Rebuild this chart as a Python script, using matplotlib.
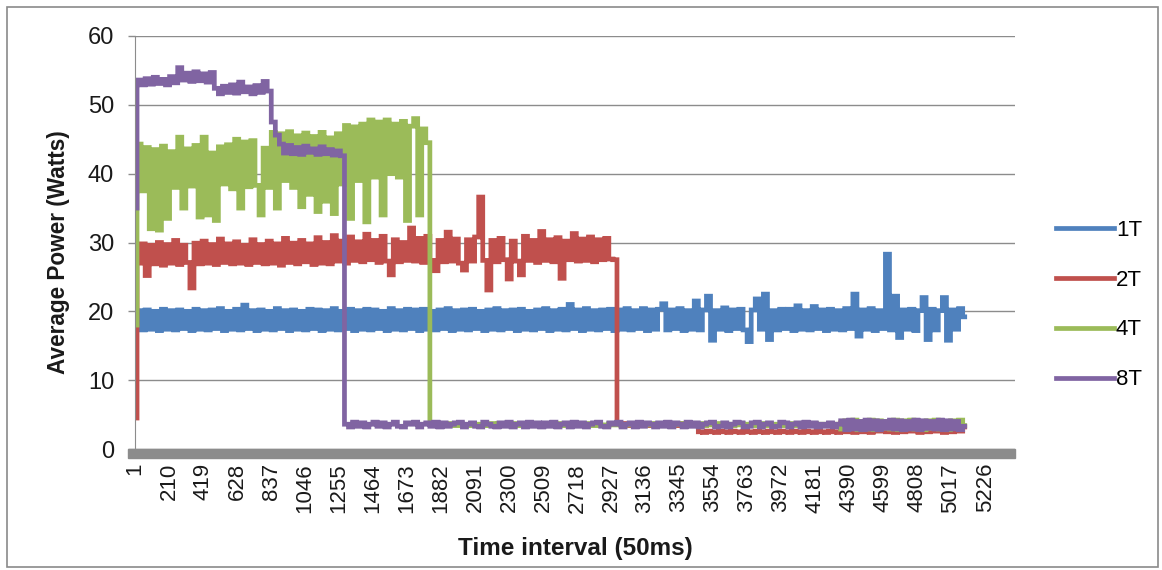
import numpy as np
import matplotlib
matplotlib.use("Agg")
import matplotlib.pyplot as plt
from matplotlib.patches import Rectangle

plt.rcParams['font.family'] = ['Liberation Sans', 'DejaVu Sans']
plt.rcParams['path.simplify'] = False

# time intervals (50ms), sampled every 25 intervals
t = np.arange(1, 5102, 25)

tick_labels = [1, 210, 419, 628, 837, 1046, 1255, 1464, 1673, 1882, 2091, 2300, 2509,
               2718, 2927, 3136, 3345, 3554, 3763, 3972, 4181, 4390, 4599, 4808, 5017, 5226]

# average power (Watts)
p1 = [18.0, 20.1, 17.3, 20.2, 17.4, 20.0, 17.2, 20.3, 17.4, 20.1,
      17.3, 20.2, 17.5, 20.0, 17.2, 20.3, 17.4, 20.1, 17.3, 20.2,
      17.5, 20.4, 17.2, 20.0, 17.4, 20.3, 17.3, 20.9, 17.5, 20.1,
      17.2, 20.2, 17.4, 20.0, 17.3, 20.4, 17.5, 20.1, 17.2, 20.2,
      17.4, 20.0, 17.3, 20.3, 17.5, 20.2, 17.2, 20.1, 17.4, 20.4,
      17.3, 20.0, 17.5, 20.3, 17.2, 20.1, 17.4, 20.3, 17.3, 20.2,
      17.5, 20.0, 17.2, 20.4, 17.4, 20.1, 17.3, 20.3, 17.5, 20.2,
      17.2, 20.3, 17.4, 20.0, 17.3, 20.2, 17.5, 20.4, 17.2, 20.1,
      17.4, 20.2, 17.3, 20.3, 17.5, 20.0, 17.2, 20.2, 17.4, 20.4,
      17.3, 20.1, 17.5, 20.2, 17.2, 20.3, 17.4, 20.0, 17.3, 20.2,
      17.5, 20.4, 17.2, 20.1, 17.4, 20.3, 17.3, 21.0, 17.5, 20.2,
      17.2, 20.4, 17.4, 20.1, 17.3, 20.2, 17.5, 20.3, 17.2, 20.2,
      17.4, 20.4, 17.3, 20.1, 17.5, 20.4, 17.2, 20.2, 17.4, 20.3,
      21.1, 17.3, 20.2, 17.5, 20.4, 17.2, 20.1, 17.4, 21.5, 17.3,
      20.2, 22.2, 15.8, 20.1, 17.4, 20.5, 17.2, 20.2, 17.5, 20.3,
      17.3, 15.6, 20.2, 21.8, 17.4, 22.5, 15.9, 20.1, 17.3, 20.3,
      17.5, 20.3, 17.2, 20.8, 17.4, 20.1, 17.3, 20.7, 17.5, 20.2,
      17.2, 20.3, 17.4, 20.1, 17.3, 20.4, 17.5, 22.5, 16.4, 20.2,
      17.4, 20.4, 17.2, 20.1, 17.5, 28.3, 17.3, 22.2, 16.2, 20.2,
      17.4, 20.3, 17.2, 20.1, 22.0, 15.9, 20.3, 17.3, 20.1, 22.0,
      15.8, 20.2, 17.4, 20.4, 19.2]

p2 = [4.5, 27.0, 29.8, 25.2, 29.6, 26.9, 30.0, 26.7, 29.7, 27.0,
      30.3, 26.8, 29.6, 27.1, 23.4, 29.9, 26.9, 30.2, 27.0, 29.7,
      26.8, 30.5, 27.1, 29.8, 26.9, 30.1, 27.0, 29.6, 26.8, 30.4,
      27.1, 29.7, 26.9, 30.2, 27.0, 29.8, 26.7, 30.6, 27.1, 29.9,
      26.9, 30.3, 27.2, 29.8, 26.8, 30.7, 27.0, 30.0, 26.9, 31.0,
      27.3, 30.2, 27.0, 30.8, 27.4, 30.1, 27.2, 31.2, 27.5, 30.3,
      27.1, 30.9, 27.3, 25.3, 30.4, 27.2, 30.0, 27.4, 32.1, 27.3,
      30.6, 27.1, 30.9, 27.4, 25.9, 30.3, 27.2, 31.5, 27.3, 30.5,
      27.0, 26.0, 30.4, 27.3, 30.8, 36.6, 27.4, 23.1, 30.3, 27.2,
      30.6, 27.5, 24.7, 30.2, 27.3, 25.3, 30.9, 27.4, 30.3, 27.1,
      31.6, 27.4, 30.4, 27.2, 30.7, 24.8, 30.2, 27.5, 31.3, 27.3,
      30.5, 27.4, 30.8, 27.2, 30.4, 27.5, 30.6, 27.6, 27.5, 3.6,
      3.5, 3.7, 3.4, 3.6, 3.5, 3.7, 3.4, 3.6, 3.5, 3.6,
      3.4, 3.7, 3.5, 3.6, 3.4, 3.7, 3.5, 3.6, 3.4, 2.5,
      2.4, 2.6, 2.5, 2.4, 2.6, 2.5, 2.4, 2.6, 2.5, 2.4,
      2.6, 2.5, 2.4, 2.6, 2.5, 2.4, 2.6, 2.5, 2.4, 2.6,
      2.5, 2.4, 2.6, 2.5, 2.4, 2.6, 2.5, 2.4, 2.6, 2.5,
      2.4, 2.6, 2.5, 2.4, 3.8, 2.5, 3.9, 2.4, 3.7, 2.5,
      3.8, 2.4, 3.9, 2.6, 3.7, 2.5, 3.8, 2.4, 3.9, 2.5,
      3.7, 2.6, 3.8, 2.4, 3.9, 2.5, 3.7, 2.6, 3.8, 2.4,
      3.9, 2.5, 3.8, 2.6, 3.2]

p4 = [18.0, 44.3, 37.5, 43.8, 32.0, 43.5, 31.8, 44.0, 33.5, 43.2,
      38.0, 45.3, 35.0, 43.6, 38.2, 44.1, 33.7, 45.3, 34.0, 43.0,
      33.2, 43.9, 38.5, 44.2, 37.8, 45.0, 35.0, 44.6, 38.1, 44.8,
      38.3, 34.0, 43.7, 38.0, 46.0, 35.0, 45.8, 39.0, 46.1, 38.0,
      45.5, 35.2, 45.9, 37.0, 45.4, 34.5, 46.0, 36.0, 45.2, 34.2,
      45.8, 38.5, 47.0, 33.5, 46.8, 39.0, 47.2, 33.0, 47.8, 39.5,
      47.5, 34.0, 47.8, 40.0, 47.2, 39.5, 47.6, 33.2, 46.9, 48.0,
      34.0, 46.5, 44.5, 3.6, 3.5, 3.4, 3.6, 3.5, 3.7, 3.4,
      3.6, 3.5, 3.4, 3.7, 3.5, 3.6, 3.4, 3.5, 3.7, 3.6,
      3.5, 3.4, 3.6, 3.5, 3.7, 3.4, 3.6, 3.5, 3.4, 3.6,
      3.7, 3.5, 3.4, 3.6, 3.5, 3.7, 3.4, 3.6, 3.5, 3.4,
      3.6, 3.5, 3.7, 3.4, 3.6, 3.5, 3.4, 3.7, 3.5, 3.6,
      3.4, 3.5, 3.7, 3.6, 3.5, 3.4, 3.6, 3.5, 3.7, 3.4,
      3.6, 3.5, 3.4, 3.6, 3.7, 3.5, 3.4, 3.6, 3.5, 3.7,
      3.4, 3.6, 3.5, 3.4, 3.7, 3.5, 3.6, 3.4, 3.5, 3.7,
      3.6, 3.5, 3.4, 3.6, 3.5, 3.7, 3.4, 3.6, 3.5, 3.4,
      3.6, 3.5, 3.7, 3.4, 3.6, 3.5, 3.4, 3.7, 3.5, 3.6,
      3.5, 3.4, 3.6, 3.5, 2.9, 4.1, 3.0, 4.2, 2.8, 4.0,
      2.9, 4.2, 2.8, 4.1, 3.0, 4.0, 2.9, 4.2, 2.8, 4.1,
      3.0, 4.2, 2.9, 4.0, 2.8, 4.1, 3.0, 4.2, 2.9, 4.0,
      2.8, 4.1, 3.0, 4.2, 3.4]

p8 = [35.0, 53.6, 52.9, 53.8, 53.0, 54.0, 53.1, 53.7, 52.9, 54.1,
      53.2, 55.4, 53.6, 54.6, 53.4, 54.8, 53.5, 54.5, 53.3, 54.7,
      52.4, 51.6, 52.7, 51.8, 52.9, 51.7, 53.3, 51.9, 52.6, 51.6,
      52.8, 51.8, 53.4, 52.0, 47.5, 45.6, 44.3, 43.0, 44.1, 42.9,
      43.8, 42.8, 44.0, 43.1, 43.6, 42.8, 43.9, 42.9, 43.5, 42.7,
      43.3, 42.6, 3.6, 3.2, 3.9, 3.3, 3.8, 3.2, 3.6, 3.9,
      3.3, 3.8, 3.2, 3.6, 3.9, 3.3, 3.2, 3.8, 3.6, 3.9,
      3.2, 3.6, 3.8, 3.3, 3.9, 3.2, 3.8, 3.3, 3.6, 3.8,
      3.9, 3.2, 3.6, 3.8, 3.3, 3.2, 3.9, 3.6, 3.3, 3.2,
      3.8, 3.3, 3.9, 3.2, 3.6, 3.8, 3.2, 3.9, 3.3, 3.8,
      3.2, 3.8, 3.3, 3.9, 3.2, 3.6, 3.8, 3.2, 3.9, 3.3,
      3.8, 3.2, 3.6, 3.8, 3.9, 3.3, 3.2, 3.8, 3.6, 3.9,
      3.2, 3.6, 3.8, 3.2, 3.9, 3.3, 3.8, 3.6, 3.2, 3.8,
      3.3, 3.9, 3.2, 3.8, 3.6, 3.2, 3.9, 3.3, 3.8, 3.2,
      3.6, 3.8, 3.9, 3.2, 3.3, 3.8, 3.2, 3.6, 3.9, 3.8,
      3.2, 3.3, 3.8, 3.9, 3.2, 3.6, 3.8, 3.2, 3.3, 3.9,
      3.8, 3.2, 3.6, 3.8, 3.2, 3.9, 3.3, 3.8, 3.2, 3.6,
      3.3, 3.8, 3.2, 3.6, 4.1, 2.8, 4.2, 2.9, 4.0, 2.8,
      4.2, 2.9, 4.1, 2.8, 4.0, 3.0, 4.2, 2.9, 4.1, 2.8,
      4.0, 2.9, 4.2, 2.8, 4.1, 3.0, 4.0, 2.9, 4.2, 2.8,
      4.1, 2.9, 4.0, 2.8, 3.3]

series = ['1T', '2T', '4T', '8T']
colors = ['#4F81BD', '#C0504D', '#9BBB59', '#8064A2']

W, H = 1162, 570
fig = plt.figure(figsize=(W / 100, H / 100), dpi=100)
ax = fig.add_axes([135 / W, 1 - 449 / H, 880 / W, 413 / H])

# dense samples: step drawing lets the jitter merge into a solid band like the original
for vals, name, c in zip([p1, p2, p4, p8], series, colors):
    ax.plot(t, vals, color=c, lw=3.4, label=name, drawstyle='steps-mid',
            solid_joinstyle='miter', snap=False)

ax.set_xlim(1, 5410)
ax.set_ylim(0, 60)
ax.set_yticks(np.arange(0, 61, 10))
ax.set_xticks(tick_labels)
ax.set_xticklabels([str(v) for v in tick_labels], rotation=90, fontsize=16, color='#1a1a1a')
ax.tick_params(axis='x', length=0, pad=10)
ax.tick_params(axis='y', length=5, color='#8c8c8c', width=1, pad=10, labelsize=17,
               labelcolor='#1a1a1a')
ax.grid(axis='y', color='#8c8c8c', lw=1)
ax.set_axisbelow(True)
for s in ['top', 'right', 'bottom']:
    ax.spines[s].set_visible(False)
ax.spines['left'].set_color('#8c8c8c')

# grey floor under the plot area
fig.patches.append(Rectangle((128 / W, 1 - 458 / H), 887 / W, 9 / H,
                             transform=fig.transFigure, color='#8c8c8c', zorder=0))
# outer chart border
fig.patches.append(Rectangle((7 / W, 1 - 567 / H), 1151 / W, 560 / H, fill=False,
                             edgecolor='#8a8a8a', lw=1.2, transform=fig.transFigure))

fig.text(575 / W, 1 - 549 / H, 'Time interval (50ms)', ha='center', va='center',
         fontsize=17.5, fontweight='bold', color='#1a1a1a')
fig.text(58 / W, 1 - 252 / H, 'Average Power (Watts)', ha='center', va='center',
         rotation=90, fontsize=16.3, fontweight='bold', color='#1a1a1a')

leg = fig.legend(loc='center left', bbox_to_anchor=(1036 / W, 1 - 305 / H), frameon=False,
                 fontsize=16, handlelength=2.6, handletextpad=0.1, labelspacing=1.3)
for h in leg.get_lines():
    h.set_linewidth(3.4)

fig.savefig('out.png', dpi=100)
